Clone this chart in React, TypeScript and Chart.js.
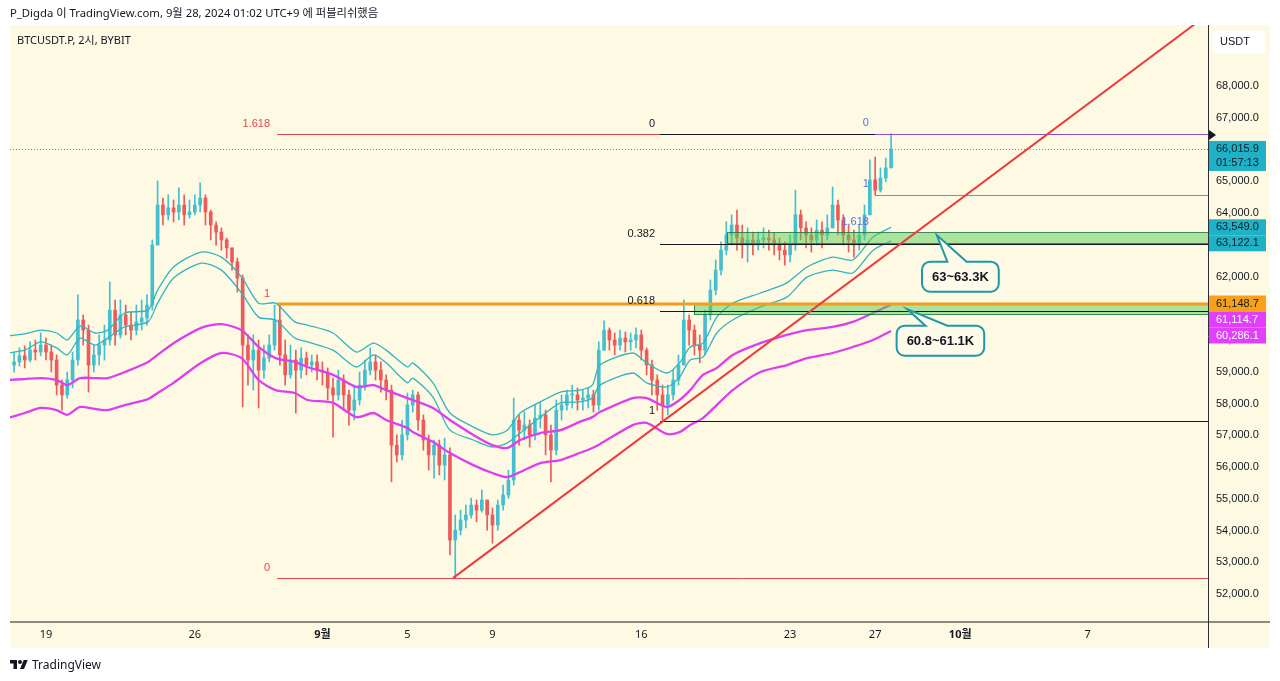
import React, { useEffect, useRef } from 'react';
import { Chart, registerables } from 'chart.js';

Chart.register(...registerables);

const W = 1280;
const H = 681;
const BG = '#fdf9e2';
const FONT = "'Liberation Sans', Arial, sans-serif";
const KFONT = "'Noto Sans', 'Noto Sans CJK KR', sans-serif";

// ---------- axes (x = days counted from 19 Aug 2024) ----------
const xMin = -1.693;
const xMax = 54.656;
const yMin = 51150;
const yMax = 69920;
const timeTickDays = [0, 7, 13, 17, 21, 28, 35, 39, 43, 49];
const timeTickLabels = ['19', '26', '9월', '5', '9', '16', '23', '27', '10월', '7'];
const monthTickDays = [13, 43];
const priceTicks = [52000, 53000, 54000, 55000, 56000, 57000, 58000, 59000, 60000, 61000, 62000, 63000, 64000, 65000, 66000, 67000, 68000];

// ---------- candles (6h bars) ----------
const candleFirstDay = -1.5;
const candleStepDays = 0.25;
const firstOpen = 59210;
const closes = [
  59310, 59500, 59370, 59680, 59620, 59840, 59620, 59370, 58580, 58270,
  58740, 59370, 60630, 60310, 59210, 59530, 59840, 60000, 60940, 60160,
  60790, 60470, 60310, 60570, 60690, 61100, 62990, 64250, 63940, 64160,
  64030, 64250, 63940, 64030, 64250, 64470, 64030, 63620, 63400, 63150,
  62900, 62460, 61950, 59840, 59370, 59680, 59050, 59430, 59840, 60630,
  59530, 58900, 59370, 59050, 59430, 59210, 59310, 59050, 58990, 58490,
  58270, 58740, 58270, 57790, 58110, 58580, 59050, 59310, 59050, 58740,
  58420, 56690, 56380, 57010, 57950, 58270, 57480, 56850, 56380, 56690,
  56060, 56380, 53700, 54010, 54330, 54490, 54800, 54640, 54960, 54490,
  54170, 54800, 55120, 55590, 57480, 57160, 57320, 57010, 57540, 57640,
  57010, 56530, 57790, 57950, 58270, 58270, 58110, 58170, 58270, 57950,
  59680, 60310, 60000, 59840, 60060, 59940, 60000, 60160, 59680, 59210,
  58740, 58270, 57950, 58270, 58740, 59210, 60630, 60310, 59840, 59680,
  60790, 61570, 62200, 62830, 63310, 63620, 63210, 62990, 63150, 62990,
  63150, 63210, 63150, 62990, 62830, 62680, 62990, 63940, 63530, 63310,
  63150, 63460, 63310, 63530, 64250, 63780, 63310, 63150, 62990, 63310,
  63940, 65040, 64720, 65100, 65420, 66015.9,
];
const highs = [
  59620, 59750, 59810, 59940, 60000, 60220, 60060, 59840, 59530, 58740,
  58990, 59620, 61420, 60790, 60470, 59840, 60160, 60470, 61830, 61260,
  61260, 61100, 60880, 61100, 61260, 61420, 63150, 65010, 64470, 64570,
  64410, 64790, 64570, 64410, 64570, 64950, 64570, 64090, 63720, 63530,
  63210, 62900, 62580, 62050, 60160, 60160, 60000, 59840, 60160, 61100,
  61150, 60000, 59840, 59680, 59750, 59620, 59530, 59530, 59310, 59120,
  58800, 59050, 58900, 58420, 58580, 58990, 59370, 59750, 59530, 59310,
  58900, 58580, 57010, 57480, 58330, 58420, 58360, 57640, 57010, 56850,
  56850, 56910, 56600, 54490, 54640, 54800, 55020, 54960, 55270, 54960,
  54710, 54960, 55430, 55900, 58170, 57640, 57730, 57480, 57950, 58020,
  57790, 57320, 58110, 58270, 58420, 58580, 58490, 58420, 58490, 58420,
  59940, 60600, 60380, 60220, 60310, 60250, 60220, 60380, 60310, 59750,
  59370, 58900, 58580, 58580, 59050, 59530, 61260, 60790, 60470, 60160,
  60940, 61890, 62520, 63090, 63720, 63940, 64090, 63620, 63530, 63400,
  63400, 63530, 63460, 63370, 63210, 63090, 63310, 64720, 64090, 63720,
  63530, 63780, 63720, 63940, 64820, 64410, 63940, 63620, 63460, 63620,
  64250, 65670, 65760, 65420, 65730, 66490,
];
const lows = [
  58990, 59180, 59120, 59310, 59370, 59500, 59370, 58990, 58270, 57790,
  58170, 58490, 59210, 59840, 58360, 58990, 59210, 59370, 59840, 59840,
  60060, 60160, 60000, 60160, 60310, 60470, 60940, 63150, 63620, 63780,
  63720, 63780, 63620, 63840, 63940, 64030, 63620, 63150, 62990, 62830,
  62580, 62200, 61510, 57890, 58580, 58420, 57860, 58800, 59310, 59680,
  59210, 58580, 58800, 57700, 58800, 58900, 58990, 58740, 58580, 58110,
  56940, 58110, 57790, 57320, 57480, 57950, 58420, 58900, 58740, 58360,
  58110, 55530, 56160, 56220, 56850, 57730, 57160, 56530, 55900, 55650,
  55750, 55590, 53230, 52500, 53860, 54080, 54390, 54270, 54580, 54010,
  53600, 54010, 54640, 55020, 55430, 56690, 56850, 56630, 56850, 57230,
  56380, 55530, 56380, 57480, 57790, 57860, 57790, 57790, 57860, 57730,
  57790, 59840, 59680, 59530, 59680, 59620, 59680, 59750, 59370, 58900,
  58270, 57790, 57450, 57640, 58110, 58580, 59210, 59840, 59530, 59280,
  59530, 60630, 61420, 62050, 62680, 62990, 62830, 62580, 62460, 62680,
  62830, 62900, 62830, 62680, 62520, 62360, 62460, 62830, 63150, 62900,
  62770, 62990, 62900, 63150, 63620, 63310, 62990, 62770, 62610, 62830,
  63150, 63940, 64570, 64660, 64980, 65510,
];

// ---------- indicator bands ----------
const bandDays = [-1.8, -1.0, -0.25, 0.5, 1.0, 1.6, 2.3, 2.9, 3.7, 4.8, 5.25, 6.0, 7.3, 8.25, 9.2, 10.0, 10.8, 11.7, 12.3, 13.5, 14.6, 15.4, 16.0, 17.0, 17.25, 18.2, 19.0, 20.1, 21.0, 21.7, 22.3, 23.25, 24.2, 25.1, 25.7, 26.05, 27.6, 28.25, 29.2, 29.8, 30.3, 30.9, 31.55, 32.3, 33.6, 34.85, 35.8, 37.0, 37.95, 38.9, 39.75];
const cyanUpper = [60130, 60190, 60310, 60220, 60000, 60440, 60220, 60310, 60850, 60940, 61570, 62300, 62770, 62610, 61980, 61160, 61160, 60570, 60470, 60220, 59620, 59900, 59680, 59150, 59280, 58650, 57700, 57260, 57010, 57160, 57700, 58050, 58360, 58420, 58580, 59210, 59590, 59280, 58960, 59280, 59780, 59900, 60720, 61160, 61480, 61800, 62300, 62610, 62520, 63240, 63549.0];
const cyanLower = [59590, 59680, 59940, 59750, 59530, 60060, 59840, 60060, 60410, 60570, 61160, 61950, 62420, 62200, 61480, 60720, 60630, 60060, 59940, 59680, 59150, 59530, 59280, 58650, 58800, 58200, 57160, 56850, 56630, 56760, 57070, 57570, 58020, 58050, 58170, 58580, 58960, 58650, 58520, 58830, 59370, 59460, 60220, 60630, 61040, 61350, 61980, 62200, 62110, 62830, 63122.1];
const magentaUpper = [58740, 58770, 58800, 58740, 58580, 58800, 58800, 58800, 58990, 59310, 59530, 59900, 60380, 60500, 60310, 59780, 59430, 59310, 59150, 58900, 58520, 58580, 58420, 58170, 58110, 57860, 57480, 57010, 56690, 56600, 56850, 57070, 57160, 57420, 57570, 57730, 58170, 58170, 57890, 58110, 58420, 58900, 59120, 59530, 59900, 60160, 60310, 60410, 60570, 60850, 61114.7];
const magentaLower = [57540, 57700, 57860, 57790, 57640, 57890, 57830, 57790, 57950, 58140, 58330, 58650, 59280, 59590, 59430, 58740, 58420, 58330, 58110, 58020, 57570, 57700, 57480, 57230, 57100, 56790, 56440, 56060, 55810, 55680, 55840, 56120, 56220, 56440, 56600, 56720, 57320, 57390, 57040, 57100, 57320, 57540, 57950, 58420, 58990, 59210, 59430, 59590, 59780, 60000, 60286.1];

// ---------- price tags on the scale ----------
const lastPrice = 66015.9;
const countdown = '01:57:13';
const tagPrices = [66015.9, 63549.0, 63122.1, 61148.7, 61114.7, 60286.1];
const tagColors = ['#1fb2c6', '#1fb2c6', '#1fb2c6', '#f7a11a', '#e040fb', '#e040fb'];
const tagText = ['#0f1e2a', '#0f1e2a', '#0f1e2a', '#1a1a1a', '#ffffff', '#ffffff'];

// ---------- drawings ----------
const redFibStart = 10.87;
const redFibLabels = ['0', '1', '1.618'];
const redFibPrices = [52502, 61148.7, 66490];
const blackFibStart = 28.88;
const blackFibLabels = ['0', '0.382', '0.618', '1'];
const blackFibPrices = [66490, 63037, 60903, 57448];
const blueFibStart = 38.99;
const blueFibLabels = ['0', '1', '1.618'];
const blueFibPrices = [66490, 64567, 63380];
const orangeLineStart = 10.87;
const orangeLinePrice = 61148.7;
const zoneStarts = [32.03, 30.48];
const zoneLows = [63050, 60820];
const zoneHighs = [63390, 61150];
const calloutTexts = ['63~63.3K', '60.8~61.1K'];
const calloutTipDays = [41.9, 40.5];
const calloutTipPrices = [63306, 60975];
const calloutBoxDays = [43.01, 42.07];
const calloutBoxPrices = [61993, 59977];
const trendStartDay = 19.14;
const trendStartPrice = 52500;
const trendThroughDay = 28.9;
const trendThroughPrice = 57380;

const UP = '#43bfd0';
const DOWN = '#ec5a5a';
const CYAN = '#33b4c2';
const MAGENTA = '#dc3ff0';

function fmt(v: number) {
  return v.toLocaleString('en-US', { minimumFractionDigits: 1, maximumFractionDigits: 1 });
}

function buildCandles() {
  const wicks: any[] = [];
  const bodies: any[] = [];
  const colors: string[] = [];
  for (let i = 0; i < closes.length; i++) {
    const t = candleFirstDay + i * candleStepDays;
    const o = i === 0 ? firstOpen : closes[i - 1];
    const c = closes[i];
    const h = Math.max(highs[i], o, c);
    const l = Math.min(lows[i], o, c);
    wicks.push({ x: t, y: [l, h] });
    bodies.push({ x: t, y: [Math.min(o, c), Math.max(o, c)] });
    colors.push(c >= o ? UP : DOWN);
  }
  return { wicks, bodies, colors };
}

const bgPlugin = {
  id: 'bgPlugin',
  beforeDraw(chart: any) {
    const ctx = chart.ctx;
    ctx.save();
    ctx.fillStyle = '#ffffff';
    ctx.fillRect(0, 0, W, H);
    ctx.fillStyle = BG;
    ctx.fillRect(10, 25, 1260, 623);
    ctx.restore();
  },
};

function hline(ctx: any, x0: number, x1: number, y: number) {
  const yy = Math.round(y) + 0.5;
  ctx.beginPath();
  ctx.moveTo(x0, yy);
  ctx.lineTo(x1, yy);
  ctx.stroke();
}

function drawCallout(ctx: any, text: string, tipX: number, tipY: number, cx: number, cy: number) {
  ctx.font = 'bold 13px ' + FONT;
  const tw = ctx.measureText(text).width;
  const w = tw + 20;
  const h = 30;
  const r = 8;
  const l = cx - w / 2;
  const t = cy - h / 2;
  const rr = l + w;
  const b = t + h;
  const b1 = l + w * 0.33;
  const b2 = l + w * 0.58;
  ctx.beginPath();
  ctx.moveTo(l + r, t);
  ctx.lineTo(b1, t);
  ctx.lineTo(tipX, tipY);
  ctx.lineTo(b2, t);
  ctx.lineTo(rr - r, t);
  ctx.arcTo(rr, t, rr, t + r, r);
  ctx.lineTo(rr, b - r);
  ctx.arcTo(rr, b, rr - r, b, r);
  ctx.lineTo(l + r, b);
  ctx.arcTo(l, b, l, b - r, r);
  ctx.lineTo(l, t + r);
  ctx.arcTo(l, t, l + r, t, r);
  ctx.closePath();
  ctx.fillStyle = '#fdfae9';
  ctx.fill();
  ctx.lineWidth = 2;
  ctx.strokeStyle = '#1e98a6';
  ctx.stroke();
  ctx.fillStyle = '#131722';
  ctx.textAlign = 'center';
  ctx.textBaseline = 'middle';
  ctx.fillText(text, cx, cy + 1);
}

const drawingsPlugin = {
  id: 'drawingsPlugin',
  afterDatasetsDraw(chart: any) {
    const ctx = chart.ctx;
    const a = chart.chartArea;
    const xs = chart.scales.x;
    const ys = chart.scales.y;
    const px = (d: number) => xs.getPixelForValue(d);
    const py = (p: number) => ys.getPixelForValue(p);
    ctx.save();
    ctx.beginPath();
    ctx.rect(a.left, a.top, a.right - a.left, a.bottom - a.top);
    ctx.clip();

    // current price dotted line
    ctx.strokeStyle = '#1fb2c6';
    ctx.lineWidth = 1;
    ctx.setLineDash([1, 2]);
    hline(ctx, a.left, a.right, py(lastPrice));
    ctx.setLineDash([]);

    // zones
    for (let i = 0; i < zoneStarts.length; i++) {
      const x0 = px(zoneStarts[i]);
      const y0 = Math.round(py(zoneHighs[i])) + 0.5;
      const y1 = Math.round(py(zoneLows[i])) + 0.5;
      ctx.fillStyle = 'rgba(90, 205, 85, 0.5)';
      ctx.fillRect(x0, y0, a.right - x0, y1 - y0);
      ctx.strokeStyle = 'rgba(30, 120, 70, 0.85)';
      ctx.lineWidth = 1;
      ctx.strokeRect(Math.round(x0) + 0.5, y0, a.right - x0 + 2, y1 - y0);
    }

    // red fib
    ctx.lineWidth = 1;
    ctx.strokeStyle = '#e8464f';
    redFibPrices.forEach((p) => hline(ctx, px(redFibStart), a.right, py(p)));
    // orange line
    ctx.strokeStyle = '#f59d1b';
    ctx.lineWidth = 3;
    ctx.beginPath();
    ctx.moveTo(px(orangeLineStart), Math.round(py(orangeLinePrice)));
    ctx.lineTo(a.right, Math.round(py(orangeLinePrice)));
    ctx.stroke();
    // black fib
    ctx.lineWidth = 1;
    ctx.strokeStyle = '#131722';
    blackFibPrices.forEach((p) => hline(ctx, px(blackFibStart), a.right, py(p)));
    // blue fib
    ctx.strokeStyle = '#8a4fc4';
    hline(ctx, px(blueFibStart), a.right, py(blueFibPrices[0]));
    ctx.strokeStyle = '#6a8de6';
    hline(ctx, px(blueFibStart), a.right, py(blueFibPrices[1]));

    // labels
    ctx.font = '11px ' + FONT;
    ctx.textAlign = 'right';
    ctx.textBaseline = 'middle';
    ctx.fillStyle = '#e8464f';
    redFibPrices.forEach((p, i) => ctx.fillText(redFibLabels[i], px(redFibStart) - 7, py(p) - 10));
    ctx.fillStyle = '#131722';
    blackFibPrices.forEach((p, i) => ctx.fillText(blackFibLabels[i], px(blackFibStart) - 5, py(p) - 10));
    ctx.fillStyle = '#5b6fe0';
    blueFibPrices.forEach((p, i) => ctx.fillText(blueFibLabels[i], px(blueFibStart) - 6, py(p) - 11));

    // trend line
    const slope = (trendThroughPrice - trendStartPrice) / (trendThroughDay - trendStartDay);
    ctx.strokeStyle = '#ee3b3f';
    ctx.lineWidth = 2;
    ctx.beginPath();
    ctx.moveTo(px(trendStartDay), py(trendStartPrice));
    ctx.lineTo(px(xMax), py(trendStartPrice + slope * (xMax - trendStartDay)));
    ctx.stroke();

    // callouts
    for (let i = 0; i < calloutTexts.length; i++) {
      drawCallout(ctx, calloutTexts[i], px(calloutTipDays[i]), py(calloutTipPrices[i]), px(calloutBoxDays[i]), py(calloutBoxPrices[i]));
    }
    ctx.restore();
  },
};

const panelPlugin = {
  id: 'panelPlugin',
  afterDraw(chart: any) {
    const ctx = chart.ctx;
    const a = chart.chartArea;
    const ys = chart.scales.y;
    ctx.save();
    // separators
    ctx.strokeStyle = '#8c8b80';
    ctx.lineWidth = 2;
    ctx.beginPath();
    ctx.moveTo(10, a.bottom + 1);
    ctx.lineTo(1270, a.bottom + 1);
    ctx.stroke();
    ctx.strokeStyle = '#2a2e39';
    ctx.lineWidth = 1;
    ctx.beginPath();
    ctx.moveTo(Math.round(a.right) + 0.5, 25);
    ctx.lineTo(Math.round(a.right) + 0.5, 648);
    ctx.stroke();

    // price tags
    ctx.font = '11px ' + FONT;
    ctx.textAlign = 'left';
    ctx.textBaseline = 'middle';
    let prevBottom = -1e9;
    const lineH = 16;
    tagPrices.forEach((p, i) => {
      const lines = i === 0 ? [fmt(p), countdown] : [fmt(p)];
      const hh = lines.length === 2 ? 30 : lineH;
      let top = ys.getPixelForValue(p) - lineH / 2;
      if (top < prevBottom) top = prevBottom;
      ctx.fillStyle = tagColors[i];
      ctx.fillRect(a.right + 1, top, 57, hh);
      ctx.fillStyle = tagText[i];
      lines.forEach((s, k) => ctx.fillText(s, a.right + 8, top + 8 + k * 14.5));
      prevBottom = top + hh;
    });

    // arrow marker for the extended fib line
    const ay = ys.getPixelForValue(blueFibPrices[0]) + 1;
    ctx.fillStyle = '#131722';
    ctx.beginPath();
    ctx.moveTo(a.right + 1, ay - 5);
    ctx.lineTo(a.right + 8, ay);
    ctx.lineTo(a.right + 1, ay + 5);
    ctx.closePath();
    ctx.fill();

    // currency box
    ctx.fillStyle = '#ffffff';
    ctx.beginPath();
    ctx.roundRect(1212.5, 30.5, 53, 23, 4);
    ctx.fill();
    ctx.fillStyle = '#131722';
    ctx.fillText('USDT', 1220, 42);
    ctx.restore();
  },
};

export default function App() {
  const ref = useRef<HTMLCanvasElement>(null);
  useEffect(() => {
    const { wicks, bodies, colors } = buildCandles();
    const band = (vals: number[]) => bandDays.map((d, i) => ({ x: d, y: vals[i] }));
    const chart = new Chart(ref.current as HTMLCanvasElement, {
      type: 'bar',
      data: {
        datasets: [
          { type: 'line', label: 'm1', data: band(magentaUpper), borderColor: MAGENTA, borderWidth: 2.3, pointRadius: 0, tension: 0.25, order: 0 } as any,
          { type: 'line', label: 'm2', data: band(magentaLower), borderColor: MAGENTA, borderWidth: 2.3, pointRadius: 0, tension: 0.25, order: 0 } as any,
          { type: 'line', label: 'c1', data: band(cyanUpper), borderColor: CYAN, borderWidth: 1.3, pointRadius: 0, tension: 0.25, order: 1 } as any,
          { type: 'line', label: 'c2', data: band(cyanLower), borderColor: CYAN, borderWidth: 1.3, pointRadius: 0, tension: 0.25, order: 1 } as any,
          { type: 'bar', label: 'bodies', data: bodies, backgroundColor: colors, barThickness: 3, grouped: false, minBarLength: 1, order: 2 } as any,
          { type: 'bar', label: 'wicks', data: wicks, backgroundColor: colors, barThickness: 1, grouped: false, order: 3 } as any,
        ],
      },
      options: {
        responsive: false,
        animation: false,
        events: [],
        layout: { padding: { left: 10, right: 10, top: 25, bottom: 33 } },
        plugins: { legend: { display: false }, tooltip: { enabled: false } },
        scales: {
          x: {
            type: 'linear',
            min: xMin,
            max: xMax,
            offset: false,
            grid: { display: false, drawTicks: false },
            border: { display: false },
            afterBuildTicks: (s: any) => { s.ticks = timeTickDays.map((v) => ({ value: v })); },
            afterFit: (s: any) => { s.height = 27; },
            ticks: {
              autoSkip: false,
              maxRotation: 0,
              padding: 7,
              color: '#131722',
              callback: (v: any) => { const k = timeTickDays.indexOf(Number(v)); return k >= 0 ? timeTickLabels[k] : ''; },
              font: (c: any) => ({ family: KFONT, size: 11, weight: c.tick && monthTickDays.includes(c.tick.value) ? 'bold' : 'normal' }),
            },
          },
          y: {
            type: 'linear',
            position: 'right',
            min: yMin,
            max: yMax,
            grid: { display: false, drawTicks: false },
            border: { display: false },
            afterBuildTicks: (s: any) => { s.ticks = priceTicks.map((v) => ({ value: v })); },
            afterFit: (s: any) => { s.width = 62; },
            ticks: {
              autoSkip: false,
              padding: 8,
              color: '#131722',
              font: { family: FONT, size: 11 },
              callback: (v: any) => fmt(Number(v)),
            },
          },
        },
      } as any,
      plugins: [bgPlugin, drawingsPlugin, panelPlugin],
    });
    return () => chart.destroy();
  }, []);

  return (
    <div style={{ position: 'fixed', left: 0, top: 0, width: W, height: H, background: '#fff', overflow: 'hidden' }}>
      <canvas ref={ref} width={W} height={H} style={{ position: 'absolute', left: 0, top: 0, width: W, height: H }} />
      <div style={{ position: 'absolute', left: 10, top: 5, fontFamily: KFONT, fontSize: 11.3, lineHeight: '16px', color: '#131722', whiteSpace: 'nowrap' }}>
        P_Digda 이 TradingView.com, 9월 28, 2024 01:02 UTC+9 에 퍼블리쉬했음
      </div>
      <div style={{ position: 'absolute', left: 17, top: 32, fontFamily: KFONT, fontSize: 11, lineHeight: '16px', color: '#131722', whiteSpace: 'nowrap' }}>
        BTCUSDT.P, 2시, BYBIT
      </div>
      <div style={{ position: 'absolute', left: 10, top: 656, display: 'flex', alignItems: 'center', gap: 4, fontFamily: KFONT, fontSize: 12, color: '#131722' }}>
        <svg width="18" height="14" viewBox="0 0 36 28">
          <path d="M14 22H7V11H0V4h14v18zM28 22h-8l7.5-18h8L28 22z" fill="#131722" />
          <circle cx="20" cy="8" r="4" fill="#131722" />
        </svg>
        <span>TradingView</span>
      </div>
    </div>
  );
}
